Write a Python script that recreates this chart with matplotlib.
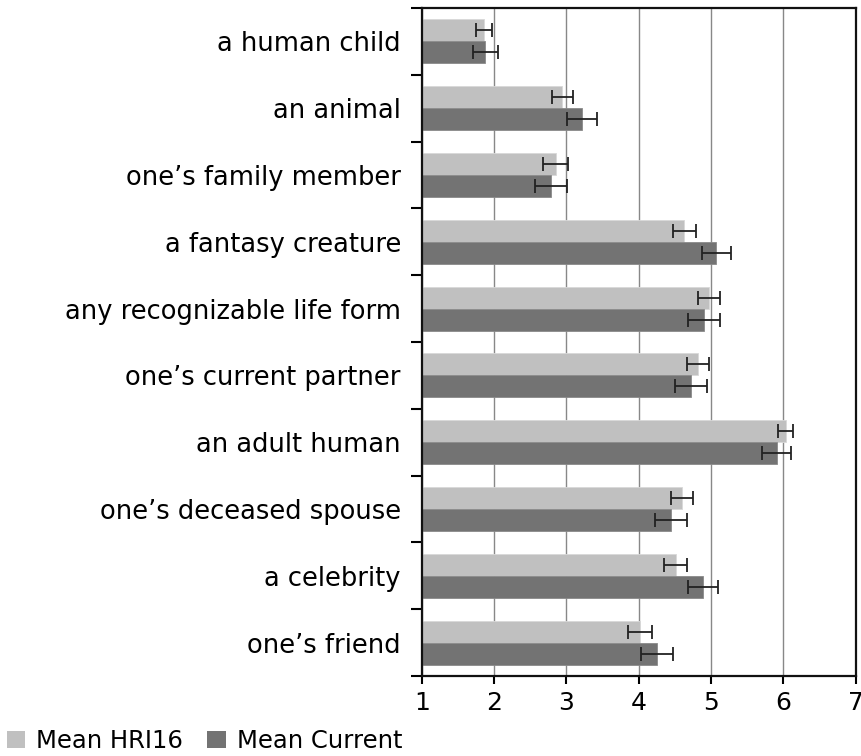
import matplotlib
matplotlib.use("Agg")
import matplotlib.pyplot as plt
import numpy as np
from matplotlib.patches import Patch

categories = ["a human child", "an animal", "one\u2019s family member", "a fantasy creature",
              "any recognizable life form", "one\u2019s current partner", "an adult human",
              "one\u2019s deceased spouse", "a celebrity", "one\u2019s friend"]
mean_hri16 = [1.86, 2.94, 2.85, 4.63, 4.97, 4.82, 6.03, 4.60, 4.51, 4.02]
err_hri16 = [0.11, 0.145, 0.17, 0.16, 0.155, 0.155, 0.11, 0.15, 0.16, 0.165]
mean_current = [1.88, 3.22, 2.79, 5.07, 4.90, 4.72, 5.91, 4.45, 4.89, 4.25]
err_current = [0.17, 0.21, 0.22, 0.20, 0.22, 0.22, 0.20, 0.22, 0.21, 0.22]
x_ticks = [1, 2, 3, 4, 5, 6, 7]
legend_labels = ["Mean HRI16", "Mean Current"]

plt.rcParams['font.family'] = ['DejaVu Sans']
fig = plt.figure(figsize=(8.61, 7.56), dpi=100)
ax = fig.add_axes([0.4898, 0.1058, 0.9938 - 0.4898, 0.9894 - 0.1058])

n = len(categories)
y = np.arange(n)
h = 0.33
light = "#c0c0c0"
dark = "#737373"
ax.barh(y - h / 2, [v - 1 for v in mean_hri16], left=1, height=h, color=light,
        edgecolor="#d8d8d8", linewidth=0.6, zorder=2)
ax.barh(y + h / 2, [v - 1 for v in mean_current], left=1, height=h, color=dark,
        edgecolor="#8a8a8a", linewidth=0.6, zorder=2)
ax.errorbar(mean_hri16, y - h / 2, xerr=err_hri16, fmt="none", ecolor="#222222",
            elinewidth=1.3, capsize=5, capthick=1.3, zorder=3)
ax.errorbar(mean_current, y + h / 2, xerr=err_current, fmt="none", ecolor="#222222",
            elinewidth=1.3, capsize=5, capthick=1.3, zorder=3)

ax.set_xlim(1, 7)
ax.set_ylim(n - 0.5, -0.5)
ax.set_xticks(x_ticks)
ax.set_xticklabels([str(t) for t in x_ticks], fontsize=18)
ax.xaxis.grid(True, color="#888888", linewidth=1.0, zorder=0)
ax.set_axisbelow(True)

ax.set_yticks(y)
ax.set_yticklabels(categories, fontsize=18.5)
ax.tick_params(axis="y", which="major", length=0, pad=15)
ax.set_yticks(np.arange(n + 1) - 0.5, minor=True)
ax.tick_params(axis="y", which="minor", length=8, width=1.5, direction="out")
ax.tick_params(axis="x", length=6, width=1.5, direction="out", pad=5)
for s in ax.spines.values():
    s.set_linewidth(1.6)
    s.set_color("#111111")

handles = [Patch(facecolor=light, edgecolor="none"), Patch(facecolor=dark, edgecolor="none")]
fig.legend(handles, legend_labels, loc="lower left", bbox_to_anchor=(7 / 861, 3 / 756),
           ncol=2, frameon=False, fontsize=17.5, handlelength=0.75, handleheight=0.75,
           handletextpad=0.45, columnspacing=1.0, borderpad=0, borderaxespad=0)

fig.savefig("out.png", dpi=100)
